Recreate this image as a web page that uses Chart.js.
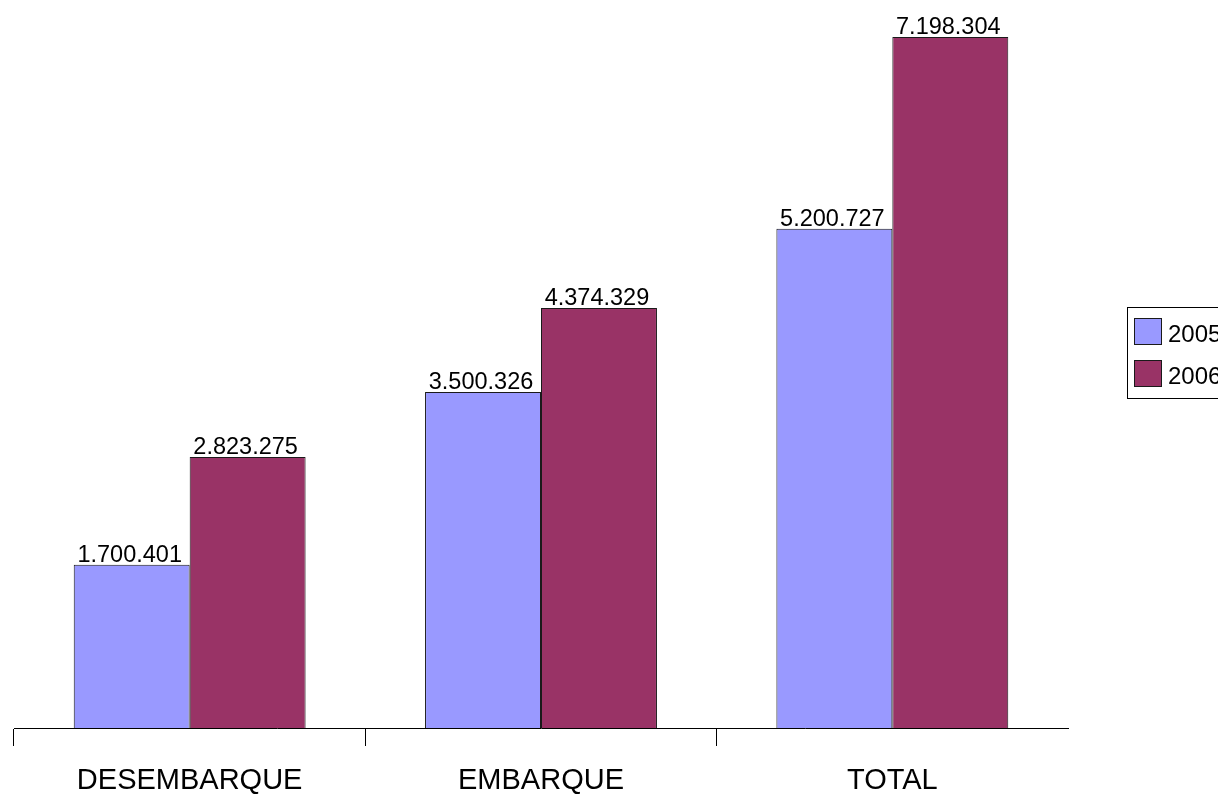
<!DOCTYPE html>
<html>
<head>
<meta charset="utf-8">
<script src="https://cdn.jsdelivr.net/npm/chart.js@4/dist/chart.umd.min.js"></script>
<style>
  body { margin:0; background:#fff; }
  #wrap { position:relative; width:1218px; height:795px; }
</style>
</head>
<body>
<div id="wrap"><canvas id="movChart"></canvas></div>
<script>
// data
const categories = ['DESEMBARQUE', 'EMBARQUE', 'TOTAL'];
const seriesNames = ['2005', '2006'];
const values2005 = [1700401, 3500326, 5200727];
const values2006 = [2823275, 4374329, 7198304];
const barColors = ['#9999ff', '#993366'];

const fontFamily = "'Liberation Sans', Arial, sans-serif";

function fmtDots(n) {
  return String(n).replace(/\B(?=(\d{3})+(?!\d))/g, '.');
}

// value labels above bars
const valueLabels = {
  id: 'valueLabels',
  afterDatasetsDraw(chart) {
    const ctx = chart.ctx;
    ctx.save();
    ctx.font = '23.5px ' + fontFamily;
    ctx.fillStyle = '#000';
    ctx.textAlign = 'center';
    ctx.textBaseline = 'alphabetic';
    chart.data.datasets.forEach((ds, i) => {
      chart.getDatasetMeta(i).data.forEach((bar, j) => {
        ctx.fillText(fmtDots(ds.data[j]), bar.x - 2, bar.y - 3);
      });
    });
    ctx.restore();
  }
};

// boxed legend on the right
const boxLegend = {
  id: 'boxLegend',
  afterDraw(chart) {
    const ctx = chart.ctx;
    ctx.save();
    ctx.strokeStyle = '#000';
    ctx.lineWidth = 1;
    ctx.strokeRect(1127.5, 307.5, 120, 91);
    ctx.font = '24px ' + fontFamily;
    ctx.textBaseline = 'alphabetic';
    chart.data.datasets.forEach((ds, i) => {
      const y = 318 + i * 42;
      ctx.fillStyle = ds.backgroundColor;
      ctx.fillRect(1134, y, 28, 27);
      ctx.strokeStyle = '#1a1a1a';
      ctx.strokeRect(1134.5, y + 0.5, 27, 26);
      ctx.fillStyle = '#000';
      ctx.fillText(ds.label, 1168, y + 24);
    });
    ctx.restore();
  }
};

new Chart(document.getElementById('movChart'), {
  type: 'bar',
  data: {
    labels: categories,
    datasets: [
      { label: seriesNames[0], data: values2005, backgroundColor: barColors[0], borderColor: '#1a1a1a', borderWidth: 1 },
      { label: seriesNames[1], data: values2006, backgroundColor: barColors[1], borderColor: '#1a1a1a', borderWidth: 1 }
    ]
  },
  options: {
    responsive: true,
    maintainAspectRatio: false,
    animation: false,
    layout: { padding: { left: 14, right: 150, top: 8, bottom: 0 } },
    plugins: { legend: { display: false }, tooltip: { enabled: false } },
    datasets: { bar: { categoryPercentage: 0.66, barPercentage: 1 } },
    scales: {
      x: {
        afterFit: s => { s.height = 67; },
        border: { display: true, color: '#000', width: 1 },
        grid: {
          display: true,
          drawOnChartArea: false,
          tickLength: 18,
          color: c => c.tick ? '#000' : 'rgba(0,0,0,0)'
        },
        ticks: { color: '#000', padding: 18, font: { family: fontFamily, size: 29 } }
      },
      y: { display: false, min: 0, max: 7500000 }
    }
  },
  plugins: [valueLabels, boxLegend]
});
</script>
</body>
</html>
